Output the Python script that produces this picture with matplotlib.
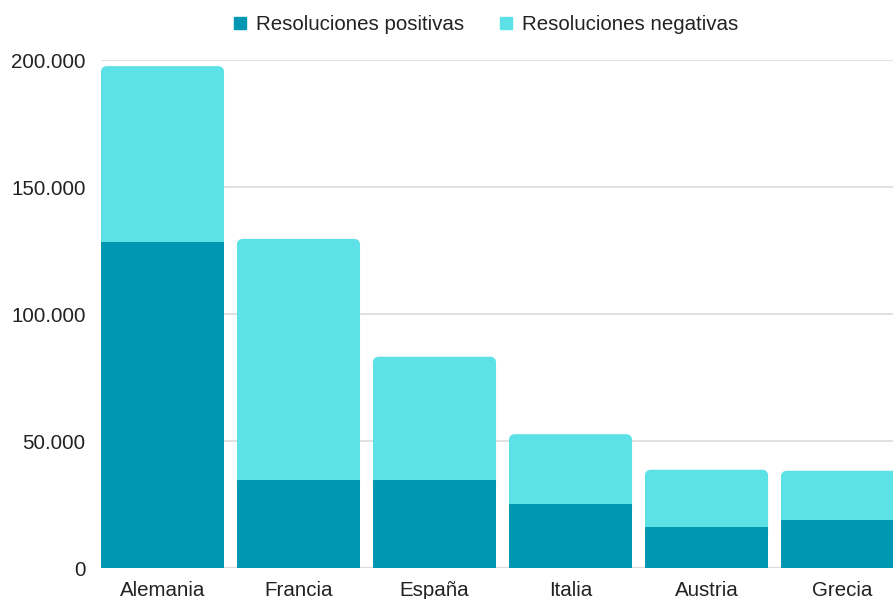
import matplotlib.pyplot as plt
from matplotlib.patches import FancyBboxPatch
from matplotlib.lines import Line2D
from matplotlib.ticker import FuncFormatter

paises = ['Alemania', 'Francia', 'España', 'Italia', 'Austria', 'Grecia']
positivas = [128400, 34800, 34700, 25300, 16200, 18900]
negativas = [69300, 94900, 48600, 27500, 22600, 19500]

c_pos = '#0097B2'
c_neg = '#5CE1E6'

plt.rcParams['font.family'] = ['Liberation Sans', 'DejaVu Sans']

fig = plt.figure(figsize=(8.93, 5.99), dpi=100)
ax = fig.add_axes([101 / 893, 1 - 568.3 / 599, 1 - 101 / 893, (568.3 - 60.3) / 599])

x = list(range(len(paises)))
ancho = 0.905

# barras superiores (negativas) con esquinas redondeadas
neg_bars = ax.bar(x, negativas, ancho, bottom=positivas, color=c_neg, zorder=2)
for r in neg_bars:
    r.set_visible(False)
    # extiende hacia abajo para que las esquinas inferiores queden tapadas
    extra = 6000
    p = FancyBboxPatch((r.get_x(), r.get_y() - extra), r.get_width(), r.get_height() + extra,
                       boxstyle='round,pad=0,rounding_size=0.045', mutation_aspect=53000,
                       facecolor=c_neg, edgecolor='none', zorder=2)
    ax.add_patch(p)

ax.bar(x, positivas, ancho, color=c_pos, zorder=3)

ax.set_xlim(-0.452, 5.371)
ax.set_ylim(0, 200000)
ax.set_yticks([0, 50000, 100000, 150000, 200000])
ax.yaxis.set_major_formatter(FuncFormatter(lambda v, p: f'{v:,.0f}'.replace(',', '.')))
ax.set_xticks(x)
ax.set_xticklabels(paises)

ax.grid(axis='y', color='#dedede', linewidth=1.3, zorder=0)
ax.axhline(0, color='#c4c4c4', linewidth=1.5, zorder=1)
for s in ax.spines.values():
    s.set_visible(False)
ax.tick_params(axis='both', length=0, labelsize=14.8, colors='#222222')
ax.tick_params(axis='y', pad=11)
ax.tick_params(axis='x', pad=9)

handles = [Line2D([], [], marker='s', linestyle='none', markersize=8, color=c_pos),
           Line2D([], [], marker='s', linestyle='none', markersize=8, color=c_neg)]
fig.legend(handles, ['Resoluciones positivas', 'Resoluciones negativas'],
           loc='center', bbox_to_anchor=(485 / 893, 1 - 25 / 599), ncol=2, frameon=False,
           fontsize=14.8, handlelength=0.8, handletextpad=0.4, columnspacing=1.6,
           labelcolor='#222222')

fig.savefig('out.png', dpi=100)
